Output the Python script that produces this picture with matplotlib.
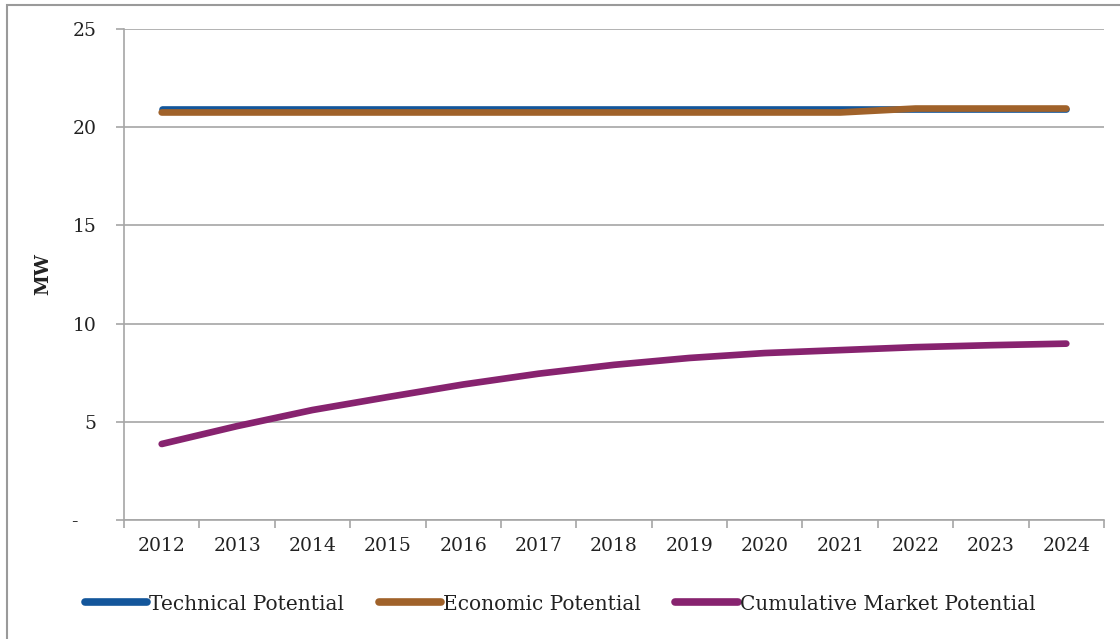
import matplotlib.pyplot as plt
from matplotlib.patches import Rectangle

# Data
years = ['2012', '2013', '2014', '2015', '2016', '2017', '2018',
         '2019', '2020', '2021', '2022', '2023', '2024']
technical = [20.95] * 13
economic = [20.75, 20.75, 20.75, 20.75, 20.75, 20.75, 20.75,
            20.75, 20.75, 20.75, 20.95, 20.95, 20.95]
market = [3.87, 4.78, 5.6, 6.26, 6.9, 7.45, 7.9,
          8.25, 8.5, 8.65, 8.8, 8.9, 8.98]
y_ticks = [0, 5, 10, 15, 20, 25]
y_labels = ['-   ', '5', '10', '15', '20', '25']

plt.rcParams['font.family'] = ['DejaVu Serif']
grid_col = '#a6a6a6'
text_col = '#222222'

fig = plt.figure(figsize=(11.2, 6.39), dpi=100)
ax = fig.add_axes([124 / 1120, 1 - 520 / 639, 980 / 1120, 491 / 639])

x = list(range(len(years)))
ax.plot(x, technical, color='#13569b', lw=4.8, solid_capstyle='round', label='Technical Potential', zorder=3)
ax.plot(x, economic, color='#a0622a', lw=4.8, solid_capstyle='round', label='Economic Potential', zorder=4)
ax.plot(x, market, color='#87236f', lw=4.8, solid_capstyle='round', label='Cumulative Market Potential', zorder=3)

ax.set_xlim(-0.5, 12.5)
ax.set_ylim(0, 25)

# y axis
ax.set_yticks(y_ticks)
ax.set_yticklabels(y_labels)
ax.yaxis.grid(True, color=grid_col, lw=1.2)
ax.tick_params(axis='y', length=6, width=1.2, color=grid_col, pad=14,
               labelsize=13.5, labelcolor=text_col)

# x axis: tick marks between categories, labels at categories
ax.set_xticks([i - 0.5 for i in range(len(years) + 1)])
ax.set_xticklabels([])
ax.set_xticks(x, minor=True)
ax.set_xticklabels(years, minor=True)
ax.tick_params(axis='x', which='major', length=6, width=1.2, color=grid_col)
ax.tick_params(axis='x', which='minor', length=0, pad=12, labelsize=13.5, labelcolor=text_col)

for side in ['top', 'right']:
    ax.spines[side].set_visible(False)
for side in ['left', 'bottom']:
    ax.spines[side].set_color(grid_col)
    ax.spines[side].set_linewidth(1.2)
ax.set_axisbelow(True)

ax.set_ylabel('MW', fontsize=13.5, fontweight='bold', color=text_col, labelpad=14)

leg = fig.legend(loc='center', bbox_to_anchor=(0.5, 1 - 604 / 639), ncol=3, frameon=False,
                 fontsize=14.5, handlelength=3.1, handletextpad=0.1, columnspacing=1.7)
for t in leg.get_texts():
    t.set_color(text_col)
for h in leg.legend_handles:
    h.set_linewidth(5.5)

# outer chart border
fig.patches.append(Rectangle((7 / 1120, -0.1), 1.2, 1 - 5 / 639 + 0.1, transform=fig.transFigure,
                             fill=False, edgecolor='#9a9a9a', lw=1.5))

fig.savefig('out.png', dpi=100)
